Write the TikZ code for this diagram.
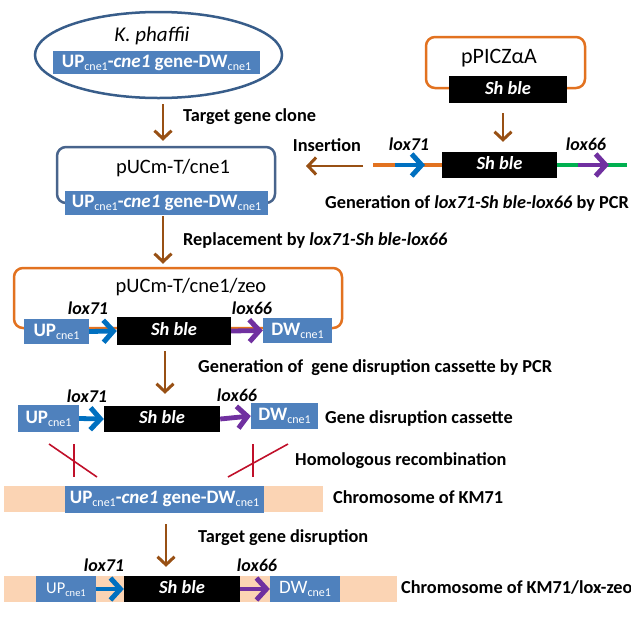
\documentclass[tikz,border=0pt]{standalone}
\usepackage{fontspec}
\setmainfont{Carlito}
\usetikzlibrary{arrows.meta,shapes.geometric}
\definecolor{boxblue}{RGB}{79,129,189}
\definecolor{ellblue}{RGB}{56,93,138}
\definecolor{rectblue}{RGB}{72,100,140}
\definecolor{orng}{RGB}{226,114,32}
\definecolor{brwn}{RGB}{152,80,20}
\definecolor{loxblue}{RGB}{0,112,192}
\definecolor{loxpurple}{RGB}{112,48,160}
\definecolor{loxgreen}{RGB}{0,176,80}
\definecolor{peachc}{RGB}{251,212,180}
\definecolor{crossred}{RGB}{192,16,42}
\newcommand\cnesub{\raisebox{-3pt}{\fontsize{12}{12}\selectfont\mdseries cne1}}
\newcommand\cnesubs{\raisebox{-3pt}{\fontsize{10.5}{10.5}\selectfont\mdseries cne1}}
\begin{document}
\begin{tikzpicture}[x=1pt,y=-1pt,
  lbl/.style={font=\fontsize{18.3}{21}\selectfont\bfseries, inner sep=0, text height=12pt, text depth=3.5pt, anchor=west},
  bigtxt/.style={font=\fontsize{20.5}{24}\selectfont, inner sep=0},
  bluebox/.style={fill=boxblue, text=white, inner sep=0, font=\fontsize{19}{21}\selectfont\bfseries, text height=12.5pt, text depth=3pt},
  blackbox/.style={fill=black, text=white, inner sep=0, font=\fontsize{18.5}{21}\selectfont\bfseries\itshape, text height=12.5pt, text depth=3pt},
  peachbox/.style={fill=peachc, inner sep=0},
  loxlbl/.style={font=\fontsize{18}{21}\selectfont\bfseries\itshape, inner sep=0},
  brarrow/.style={draw=brwn, line width=2.8pt, -{Straight Barb[length=8pt,width=17pt,line width=3pt]}},
  bluearr/.style={draw=loxblue, line width=4.8pt, -{Straight Barb[length=10pt,width=22pt,line width=5pt]}},
  purparr/.style={draw=loxpurple, line width=4.8pt, -{Straight Barb[length=10pt,width=22pt,line width=5pt]}},
  crossln/.style={draw=crossred, line width=1.6pt},
  plasmid/.style={draw, line width=2.5pt, rounded corners=9pt, inner sep=0}
]
\useasboundingbox (0,0) rectangle (631,619);

% K. phaffii
\node[ellipse, draw=ellblue, line width=2.5pt, minimum width=247pt, minimum height=86pt, inner sep=0] (ell) at (158.5,55) {};
\node[bigtxt, font=\fontsize{21}{24}\selectfont\itshape] (kph) at (152,36) {K. phaffii};
\node[bluebox, minimum width=207pt, minimum height=23pt] (bb1) at (156.5,62.5) {UP\cnesub-\textit{cne1} gene-DW\cnesub};

% pUCm-T/cne1
\node[plasmid, draw=rectblue, minimum width=218pt, minimum height=56pt] (r1) at (166,175) {};
\node[bigtxt] (t1) at (173,168) {pUCm-T/cne1};
\node[bluebox, minimum width=203pt, minimum height=24pt] (bb2) at (166.5,203) {UP\cnesub-\textit{cne1} gene-DW\cnesub};

\draw[brarrow] ([xshift=4.5pt,yshift=-5pt]ell.south) -- ([xshift=-3pt,yshift=5pt]r1.north);
\node[lbl] (l1) at (183,117) {Target gene clone};

% pPICZaA
\node[plasmid, draw=orng, minimum width=159pt, minimum height=51pt] (pp) at (505.5,62.5) {};
\node[bigtxt, font=\fontsize{22}{25}\selectfont] (tpp) at (499,58) {pPICZαA};
\node[blackbox, minimum width=118pt, minimum height=27pt] (sb1) at (508,89.5) {Sh ble};

% PCR product
\node[blackbox, minimum width=115pt, minimum height=26pt] (sb2) at (499.5,165) {Sh ble};
\draw[brarrow] ([xshift=-5pt,yshift=-10pt]sb1.south) -- ([xshift=3.5pt,yshift=10pt]sb2.north);
\coordinate (pcrL) at (373,165);
\coordinate (b1s) at (395,165);
\coordinate (b1e) at (425,165);
\coordinate (p1s) at (578,165);
\coordinate (p1e) at (609,165);
\coordinate (pcrR) at (627,165);
\coordinate (insS) at (363,166);
\coordinate (insE) at (306,166);
\draw[draw=orng, line width=4pt] (pcrL) -- (sb2.west);
\draw[draw=loxgreen, line width=4pt] (sb2.east) -- (pcrR);
\draw[bluearr] (b1s) -- (b1e);
\draw[purparr] (p1s) -- (p1e);
\draw[brarrow] (insS) -- (insE);
\node[lbl, anchor=center] (lins) at (327,147) {Insertion};
\node[loxlbl] (lx1) at (409,144) {lox71};
\node[loxlbl] (lx2) at (586,144) {lox66};
\node[lbl] (lgen1) at (325,204) {Generation of \textit{lox71-Sh ble-lox66} by PCR};

% pUCm-T/cne1/zeo
\node[plasmid, draw=orng, minimum width=328pt, minimum height=60pt] (r3) at (178,298) {};
\draw[brarrow] ([xshift=-3.5pt,yshift=-1pt]bb2.south) -- ([xshift=-15pt,yshift=3pt]r3.north);
\node[lbl] (l2) at (183,241) {Replacement by \textit{lox71-Sh ble-lox66}};
\node[bigtxt] (t3) at (191,287) {pUCm-T/cne1/zeo};
\node[bluebox, minimum width=65pt, minimum height=25pt] (up3) at (56.5,331.5) {UP\cnesub};
\node[blackbox, minimum width=114pt, minimum height=28pt] (sb3) at (174,331) {Sh ble};
\node[bluebox, minimum width=69pt, minimum height=25pt] (dw3) at (297.5,330.5) {DW\cnesub};
\draw[bluearr] (up3.east) -- (sb3.west);
\draw[purparr] (sb3.east) -- (dw3.west);
\node[loxlbl] (lx3) at (88,308) {lox71};
\node[loxlbl] (lx4) at (252,308) {lox66};

% gene disruption cassette
\node[bluebox, minimum width=61pt, minimum height=27pt] (up4) at (48.5,418.5) {UP\cnesub};
\node[blackbox, minimum width=116pt, minimum height=26pt] (sb4) at (162,419) {Sh ble};
\node[bluebox, minimum width=67pt, minimum height=26pt] (dw4) at (284.5,416) {DW\cnesub};
\draw[bluearr] (up4.east) -- (sb4.west);
\draw[purparr] (sb4.east) -- (dw4.west);
\node[loxlbl] (lx5) at (87,396) {lox71};
\node[loxlbl] (lx6) at (237,395) {lox66};
\draw[brarrow] ([xshift=-13pt,yshift=-22pt]r3.south) -- ([xshift=3pt,yshift=12pt]sb4.north);
\node[lbl] (l3) at (198,368) {Generation of \ gene disruption cassette by PCR};
\node[lbl] (l4) at (325,419) {Gene disruption cassette};

% homologous recombination crosses
\draw[crossln] (74,444) -- (74,477);
\draw[crossln] (49,444) -- (97,477);
\draw[crossln] (253,444) -- (253,477);
\draw[crossln] (288,444) -- (228,477);
\node[lbl] (l5) at (295,461) {Homologous recombination};

% chromosome of KM71
\node[peachbox, minimum width=319pt, minimum height=26pt] (pe5) at (163.5,499) {};
\node[bluebox, minimum width=199pt, minimum height=27pt] (bb5) at (164.5,499) {UP\cnesub-\textit{cne1} gene-DW\cnesub};
\node[lbl] (l6) at (333,499) {Chromosome of KM71};

% final chromosome
\node[peachbox, minimum width=393pt, minimum height=26pt] (pe6) at (200.5,589) {};
\node[bluebox, minimum width=60pt, minimum height=26pt, font=\fontsize{16.5}{18}\selectfont] (up6) at (66,589) {UP\cnesubs};
\node[blackbox, minimum width=116pt, minimum height=26pt] (sb6) at (182,589) {Sh ble};
\node[bluebox, minimum width=70pt, minimum height=26pt, font=\fontsize{19}{21}\selectfont] (dw6) at (305,589) {DW\cnesub};
\draw[bluearr] (up6.east) -- (sb6.west);
\draw[purparr] (sb6.east) -- (dw6.west);
\node[loxlbl] (lx7) at (104,565) {lox71};
\node[loxlbl] (lx8) at (257,565) {lox66};
\draw[brarrow, line width=2pt] ([xshift=1.5pt,yshift=-11.5pt]bb5.south) -- ([xshift=-16pt,yshift=9pt]sb6.north);
\node[lbl] (l7) at (198,538) {Target gene disruption};
\node[lbl] (l8) at (401,589) {Chromosome of KM71/lox-zeo};
\end{tikzpicture}
\end{document}
